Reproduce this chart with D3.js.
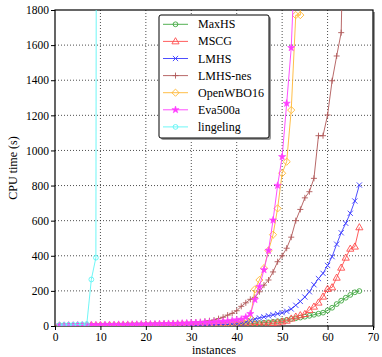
<!DOCTYPE html>
<html><head><meta charset="utf-8">
<script src="https://cdn.jsdelivr.net/npm/d3@7"></script>
<style>body{margin:0;background:#fff;} svg{display:block;}</style>
</head><body>
<script>
const W = 382, H = 357;
const xTicks = [0,10,20,30,40,50,60,70];
const yTicks = [0,200,400,600,800,1000,1200,1400,1600,1800];
const seriesNames = ["MaxHS","MSCG","LMHS","LMHS-nes","OpenWBO16","Eva500a","lingeling"];

const maxhs = [1,1,1,1,2,2,2,2,2,3, 3,3,3,3,3,4,4,4,4,4, 5,5,5,5,6,6,6,6,7,7, 7,8,8,8,9,9,10,10,10,10,
  11,12,13,15,17,19,21,24,27,30, 35,40,44,48,53,58,64,70,76,89, 104,125,144,161,177,192,199];
const mscg = [1,1,1,1,1,1,2,2,2,2, 2,2,2,3,3,3,3,3,3,3, 3,4,4,4,4,4,4,4,5,5, 5,5,5,5,5,6,6,6,6,6,
  6,6,7,8,9,11,13,16,20,25, 30,42,53,61,68,91,110,133,167,211, 220,275,332,389,440,452,562];
const lmhs = [1,1,1,2,2,2,2,2,2,3, 3,3,3,3,3,3,4,4,4,4, 4,4,5,5,5,5,5,6,6,6, 6,7,7,7,8,8,9,9,10,11,
  14,22,32,40,46,52,58,64,70,76, 84,97,118,140,165,195,235,270,300,345, 395,466,531,585,642,712,803];
const lmhsnes = [2,2,3,3,3,4,4,4,5,5, 5,6,6,6,7,7,8,8,9,9, 10,11,12,13,14,15,16,17,18,20, 22,24,27,30,34,42,50,62,72,87,
  112,132,152,163,195,233,262,308,366,400, 443,506,600,664,730,765,841,1084,1084,1202, 1397,1538,1671,3000];
const openwbo = [1,1,2,2,2,2,3,3,3,3, 3,4,4,4,4,5,5,5,5,6, 6,6,7,7,7,8,8,9,9,10, 10,11,12,13,14,15,16,18,20,22,
  26,32,44,209,262,329,430,520,670,870, 936,1230,1771,1771,5000];
const eva = [3,3,4,4,5,5,5,6,6,6, 7,7,7,8,8,8,9,9,10,10, 11,11,12,12,13,13,14,15,16,17, 18,19,20,21,22,24,26,28,31,34,
  38,50,70,150,224,320,430,603,800,964, 1268,1585,2200];
const lingeling = [6,6,7,7,8,9,11,265,389,20000];

const allSeries = [maxhs, mscg, lmhs, lmhsnes, openwbo, eva, lingeling];
const colors = ["#3fa83f","#ff4c4c","#3a3aff","#b05858","#ffb733","#ff3cff","#5ff5f5"];
const markers = ["circle","triangle","cross","plus","diamond","star","circle"];

const serif = "'Liberation Serif','DejaVu Serif',serif";
const margin = {left:55, right:9, top:10, bottom:31};
const x = d3.scaleLinear().domain([0,70]).range([margin.left, W-margin.right]);
const y = d3.scaleLinear().domain([0,1800]).range([H-margin.bottom, margin.top]);

const svg = d3.select("body").append("svg").attr("width",W).attr("height",H)
  .attr("font-family",serif);

svg.append("defs").append("clipPath").attr("id","clip").append("rect")
  .attr("x",x(0)).attr("y",y(1800)).attr("width",x(70)-x(0)).attr("height",y(0)-y(1800));

// plot shadow on right
svg.append("rect").attr("x",x(70)).attr("y",y(1800)+2).attr("width",2).attr("height",y(0)-y(1800))
  .attr("fill","#999");

// grid
const grid = svg.append("g").attr("stroke","#222").attr("stroke-width",0.8).attr("stroke-dasharray","1,2");
xTicks.filter(t=>t>0&&t<70).forEach(t=>{
  grid.append("line").attr("x1",x(t)).attr("x2",x(t)).attr("y1",y(0)).attr("y2",y(1800));
});
yTicks.filter(t=>t>0&&t<1800).forEach(t=>{
  grid.append("line").attr("x1",x(0)).attr("x2",x(70)).attr("y1",y(t)).attr("y2",y(t));
});

// axes
const fmt = d3.format("d");
const xAxis = d3.axisBottom(x).tickValues(xTicks).tickFormat(fmt).tickSize(4).tickPadding(3);
const yAxis = d3.axisLeft(y).tickValues(yTicks).tickFormat(fmt).tickSize(4).tickPadding(2);
const gx = svg.append("g").attr("transform",`translate(0,${y(0)})`).call(xAxis);
const gy = svg.append("g").attr("transform",`translate(${x(0)},0)`).call(yAxis);
[gx,gy].forEach(g=>{
  g.attr("font-family",serif).attr("font-size",11.5);
  g.select(".domain").remove();
  g.selectAll("text").attr("fill","#000");
  g.selectAll("line").attr("stroke","#000");
});

// frame
svg.append("rect").attr("x",x(0)).attr("y",y(1800)).attr("width",x(70)-x(0)).attr("height",y(0)-y(1800))
  .attr("fill","none").attr("stroke","#000").attr("stroke-width",1.2);

function drawMarker(g, type, cx, cy, color){
  if(type==="circle"){
    g.append("circle").attr("cx",cx).attr("cy",cy).attr("r",2.4).attr("fill","none").attr("stroke",color).attr("stroke-width",0.9);
  } else if(type==="triangle"){
    g.append("path").attr("d",d3.symbol(d3.symbolTriangle,22)()).attr("transform",`translate(${cx},${cy+0.4})`)
      .attr("fill","none").attr("stroke",color).attr("stroke-width",0.9);
  } else if(type==="cross"){
    const s=2.6;
    g.append("path").attr("d",`M${cx-s},${cy-s}L${cx+s},${cy+s}M${cx-s},${cy+s}L${cx+s},${cy-s}`).attr("stroke",color).attr("stroke-width",0.9);
  } else if(type==="plus"){
    const s=3;
    g.append("path").attr("d",`M${cx-s},${cy}L${cx+s},${cy}M${cx},${cy-s}L${cx},${cy+s}`).attr("stroke",color).attr("stroke-width",0.9);
  } else if(type==="diamond"){
    const s=3.6;
    g.append("path").attr("d",`M${cx},${cy-s}L${cx+s},${cy}L${cx},${cy+s}L${cx-s},${cy}Z`).attr("fill","none").attr("stroke",color).attr("stroke-width",0.9);
  } else if(type==="star"){
    g.append("path").attr("d",d3.symbol(d3.symbolStar,16)()).attr("transform",`translate(${cx},${cy})`)
      .attr("fill",color).attr("stroke",color).attr("stroke-width",0.6);
  }
}

const plot = svg.append("g").attr("clip-path","url(#clip)");
const line = d3.line().x(d=>x(d[0])).y(d=>y(d[1]));
allSeries.forEach((vals,k)=>{
  const pts = vals.map((v,i)=>[i+1,v]);
  const g = plot.append("g");
  g.append("path").datum(pts).attr("d",line).attr("fill","none").attr("stroke",colors[k]).attr("stroke-width",0.9);
  pts.forEach(p=>{ if(p[1]<=1800) drawMarker(g, markers[k], x(p[0]), y(p[1]), colors[k]); });
});

// labels
svg.append("text").attr("x",(x(0)+x(70))/2).attr("y",354).attr("text-anchor","middle")
  .attr("font-size","12px").text("instances");
svg.append("text").attr("transform",`translate(17,${(y(0)+y(1800))/2}) rotate(-90)`).attr("text-anchor","middle")
  .attr("font-size","12px").text("CPU time (s)");

// legend
const lg = svg.append("g");
const lx=159, ly=15, lw=110, lh=123;
lg.append("rect").attr("x",lx+2).attr("y",ly+2).attr("width",lw).attr("height",lh).attr("rx",2).attr("fill","#9a9a9a");
lg.append("rect").attr("x",lx).attr("y",ly).attr("width",lw).attr("height",lh).attr("rx",2).attr("fill","#fff").attr("stroke","#000").attr("stroke-width",1);
seriesNames.forEach((n,k)=>{
  const yy = 24.3 + k*17.1;
  lg.append("line").attr("x1",163).attr("x2",188).attr("y1",yy).attr("y2",yy).attr("stroke",colors[k]).attr("stroke-width",0.9);
  drawMarker(lg, markers[k], 175.5, yy, colors[k]);
  lg.append("text").attr("x",198).attr("y",yy+4).attr("font-size","12px").text(n);
});
</script>
</body></html>
